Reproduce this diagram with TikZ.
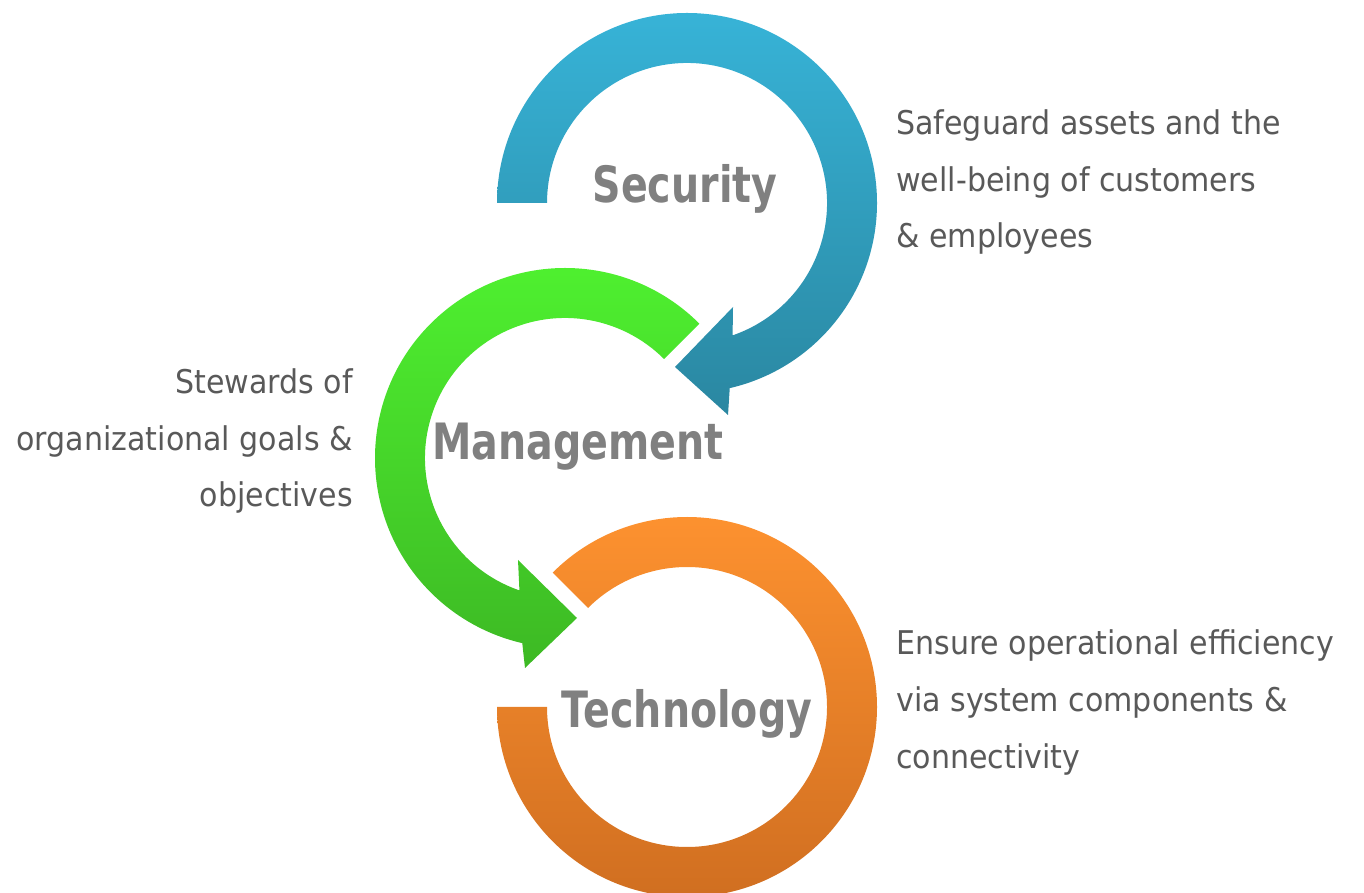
\documentclass[tikz,border=0pt]{standalone}
\usepackage{fontspec}
\setmainfont{DejaVu Sans}
\newfontfamily\descfont[FakeStretch=0.92]{DejaVu Sans}
\newfontfamily\labelfont[FakeStretch=0.79]{DejaVu Sans Bold}
\usetikzlibrary{calc}
\definecolor{secTop}{HTML}{37B3D7}
\definecolor{secBot}{HTML}{2A87A1}
\definecolor{mgmtTop}{HTML}{4FF230}
\definecolor{mgmtBot}{HTML}{3DB924}
\definecolor{techTop}{HTML}{FF9330}
\definecolor{techBot}{HTML}{CE6D20}
\definecolor{labelgray}{HTML}{808080}
\definecolor{descgray}{HTML}{595959}
\begin{document}
\begin{tikzpicture}[x=0.02cm, y=0.02cm,
    ringlabel/.style={font=\labelfont\fontsize{28.5}{34}\selectfont, text=labelgray, anchor=base, inner sep=0pt},
    desc/.style={font=\descfont\fontsize{18.6}{32.3}\selectfont, text=descgray, inner sep=0pt}]
    \useasboundingbox (0,0) rectangle (1364,892);
    \coordinate (secC) at (687,689);
    \coordinate (mgmtC) at (565,434);
    \coordinate (techC) at (687,185);
    \shade[top color=secTop, bottom color=secBot] ($(secC)+(180:190)$) arc[start angle=180, end angle=-77, radius=190]
        -- (728,477) -- (675,525) -- (733,585) -- ($(secC)+(-71:140)$) arc[start angle=-71, end angle=180, radius=140] -- cycle;
    \shade[top color=mgmtTop, bottom color=mgmtBot] ($(mgmtC)+(45:190)$) arc[start angle=45, end angle=257, radius=190]
        -- (525,224) -- (577,274) -- (518,332) -- ($(mgmtC)+(251:140)$) arc[start angle=251, end angle=45, radius=140] -- cycle;
    \shade[top color=techTop, bottom color=techBot] ($(techC)+(135:190)$) arc[start angle=135, end angle=-180, radius=190]
        -- ($(techC)+(180:140)$) arc[start angle=-180, end angle=135, radius=140] -- cycle;
    \node[ringlabel] (secLabel) at (685,689) {Security};
    \node[ringlabel] (mgmtLabel) at (578,432) {Management};
    \node[ringlabel] (techLabel) at (687,165) {Technology};
    \node[desc, anchor=base west, align=left] (secText) at (896,644) {Safeguard assets and the\\well-being of customers\\\& employees};
    \node[desc, anchor=base east, align=right] (mgmtText) at (353,385) {Stewards of\\organizational goals \&\\objectives};
    \node[desc, anchor=base west, align=left] (techText) at (896,124) {Ensure operational efficiency\\via system components \&\\connectivity};
\end{tikzpicture}
\end{document}
